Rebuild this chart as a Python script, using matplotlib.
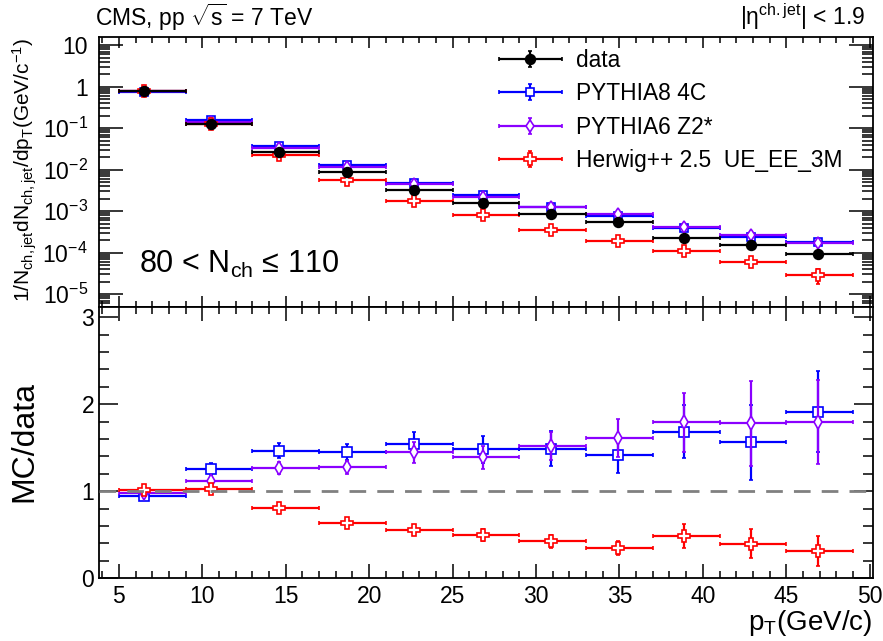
import numpy as np
import matplotlib
matplotlib.use("Agg")
import matplotlib.pyplot as plt
from matplotlib.ticker import MultipleLocator, LogLocator, NullFormatter, FuncFormatter
from matplotlib.container import ErrorbarContainer
from matplotlib.legend_handler import HandlerErrorbar

plt.rcParams['font.family'] = ['Liberation Sans', 'DejaVu Sans']
plt.rcParams['mathtext.fontset'] = 'custom'
plt.rcParams['mathtext.rm'] = 'Liberation Sans'
plt.rcParams['mathtext.it'] = 'Liberation Sans'
plt.rcParams['mathtext.bf'] = 'Liberation Sans:bold'
plt.rcParams['mathtext.default'] = 'regular'

# pT bins (GeV/c) and point positions
bin_lo = [5, 9, 13, 17, 21, 25, 29, 33, 37, 41, 45]
bin_hi = [9, 13, 17, 21, 25, 29, 33, 37, 41, 45, 49]
pt = [6.5, 10.5, 14.6, 18.7, 22.7, 26.8, 30.9, 34.9, 38.9, 42.9, 46.9]

# spectra, upper panel
data = [0.80, 0.124, 0.026, 0.0090, 0.0032, 0.0016, 8.4e-4, 5.4e-4, 2.3e-4, 1.5e-4, 9.3e-5]
data_rel = [0.03, 0.03, 0.03, 0.03, 0.04, 0.05, 0.06, 0.08, 0.10, 0.18, 0.14]
p8 = [0.76, 0.155, 0.038, 0.013, 0.0049, 0.0024, 1.25e-3, 7.6e-4, 3.9e-4, 2.35e-4, 1.78e-4]
p8_rel = [0.01, 0.01, 0.01, 0.02, 0.02, 0.03, 0.03, 0.04, 0.05, 0.06, 0.07]
p6 = [0.78, 0.138, 0.033, 0.0115, 0.0046, 0.0022, 1.28e-3, 8.6e-4, 4.1e-4, 2.65e-4, 1.67e-4]
p6_rel = [0.01, 0.01, 0.01, 0.02, 0.02, 0.03, 0.03, 0.04, 0.05, 0.06, 0.07]
hw = [0.81, 0.127, 0.0222, 0.0056, 0.0018, 8.2e-4, 3.5e-4, 1.9e-4, 1.12e-4, 6.0e-5, 2.95e-5]
hw_rel = [0.02, 0.02, 0.03, 0.03, 0.04, 0.06, 0.07, 0.10, 0.15, 0.25, 0.40]

# MC/data ratios, lower panel
r_p8 = [0.945, 1.254, 1.465, 1.45, 1.54, 1.48, 1.49, 1.42, 1.686, 1.564, 1.916]
r_p8_err = [0.02, 0.07, 0.085, 0.09, 0.14, 0.155, 0.20, 0.205, 0.30, 0.43, 0.47]
r_p6 = [0.975, 1.117, 1.27, 1.273, 1.45, 1.39, 1.52, 1.61, 1.79, 1.78, 1.797]
r_p6_err = [0.02, 0.03, 0.07, 0.08, 0.12, 0.13, 0.16, 0.22, 0.34, 0.49, 0.48]
r_hw = [1.015, 1.025, 0.81, 0.635, 0.55, 0.497, 0.424, 0.348, 0.486, 0.398, 0.317]
r_hw_err = [0.03, 0.04, 0.03, 0.03, 0.03, 0.065, 0.075, 0.08, 0.14, 0.17, 0.17]

labels = ['data', 'PYTHIA8 4C', 'PYTHIA6 Z2*', 'Herwig++ 2.5  UE_EE_3M']
c_data = 'black'
c_p8 = '#0000ff'
c_p6 = '#8a00ff'
c_hw = '#ff0000'

pt = np.array(pt)
xerr = [pt - np.array(bin_lo), np.array(bin_hi) - pt]

fig = plt.figure(figsize=(8.83, 6.41), dpi=100)
ax1 = fig.add_axes([0.112, 0.5215, 0.8767, 0.4212])
ax2 = fig.add_axes([0.112, 0.0978, 0.8767, 0.4237])

style = dict(linestyle='none', elinewidth=1.6, capsize=1.5, capthick=2.2)


def draw(ax, y, err, color, marker, ms, mfc, label, z):
    return ax.errorbar(pt, y, xerr=xerr, yerr=err, fmt=marker, color=color, ms=ms,
                       mfc=mfc, mec=color, mew=1.2, label=label, zorder=z, **style)


h_p8 = draw(ax1, p8, np.array(p8) * np.array(p8_rel), c_p8, 's', 6, 'white', labels[1], 3)
h_p6 = draw(ax1, p6, np.array(p6) * np.array(p6_rel), c_p6, 'd', 6.5, 'white', labels[2], 4)
h_hw = draw(ax1, hw, np.array(hw) * np.array(hw_rel), c_hw, 'P', 8, 'white', labels[3], 5)
h_dt = draw(ax1, data, np.array(data) * np.array(data_rel), c_data, 'o', 7, c_data, labels[0], 6)

ax1.set_yscale('log')
ax1.set_ylim(5e-6, 16)
ax1.set_xlim(3.8, 50.2)


def log_fmt(v, pos):
    e = int(round(np.log10(v)))
    if e == 0:
        return '1'
    if e == 1:
        return '10'
    return r'$10^{%d}$' % e


ax1.yaxis.set_major_locator(LogLocator(base=10, numticks=20))
ax1.yaxis.set_minor_locator(LogLocator(base=10, subs=np.arange(2, 10), numticks=20))
ax1.yaxis.set_major_formatter(FuncFormatter(log_fmt))
ax1.yaxis.set_minor_formatter(NullFormatter())
ax1.xaxis.set_major_formatter(NullFormatter())

ax1.legend(handles=[h_dt, h_p8, h_p6, h_hw], loc='upper right', bbox_to_anchor=(0.987, 1.03),
           frameon=False, fontsize=16.4, handlelength=2.8, handletextpad=0.6, labelspacing=0.45,
           handler_map={ErrorbarContainer: HandlerErrorbar(xerr_size=1.4, yerr_size=0.35)})

# lower panel
draw(ax2, r_p8, r_p8_err, c_p8, 's', 7, 'white', labels[1], 3)
draw(ax2, r_p6, r_p6_err, c_p6, 'd', 7.5, 'white', labels[2], 4)
draw(ax2, r_hw, r_hw_err, c_hw, 'P', 8.5, 'white', labels[3], 5)
ax2.axhline(1.0, color='#808080', lw=2, dashes=(6, 4), zorder=6)
ax2.set_xlim(3.8, 50.2)
ax2.set_ylim(0, 3.12)
ax2.yaxis.set_major_locator(MultipleLocator(1))
ax2.yaxis.set_minor_locator(MultipleLocator(0.2))

for ax in (ax1, ax2):
    ax.xaxis.set_major_locator(MultipleLocator(5))
    ax.xaxis.set_minor_locator(MultipleLocator(1))
    ax.tick_params(which='both', direction='in', top=True, right=True, labelsize=16.5, width=1.1)
    for s in ax.spines.values():
        s.set_linewidth(1.3)
ax1.tick_params(axis='y', which='major', length=17, pad=8)
ax1.tick_params(axis='y', which='minor', length=8)
ax1.tick_params(axis='x', which='major', length=8)
ax1.tick_params(axis='x', which='minor', length=4)
ax2.tick_params(axis='y', which='major', length=14)
ax2.tick_params(axis='y', which='minor', length=7)
ax2.tick_params(axis='x', which='major', length=10)
ax2.tick_params(axis='x', which='minor', length=5)
ax2.tick_params(axis='x', which='major', pad=5)

# texts
fig.text(0.108, 1 - 17 / 641, r'CMS, pp $\sqrt{s}$ = 7 TeV', fontsize=16.5, ha='left', va='center')
fig.text(0.98, 1 - 17 / 641, r'|$\eta^{ch.jet}$| < 1.9', fontsize=16.5, ha='right', va='center')
ax1.text(0.052, 0.155, '80 < $N_{ch}$ ≤ 110', transform=ax1.transAxes, fontsize=22, ha='left', va='center')
fig.text(25 / 883, 1 - 38 / 641, r'1/$N_{ch,jet}$d$N_{ch,jet}$/d$p_{T}$(GeV/$c^{-1}$)',
         rotation=90, fontsize=15, ha='center', va='top')
fig.text(24 / 883, 1 - 442 / 641, 'MC/data', rotation=90, fontsize=23, ha='center', va='center')
fig.text(872 / 883, 1 - 623 / 641, r'$p_{T}$(GeV/c)', fontsize=20, ha='right', va='center')

fig.savefig('out.png', dpi=100)
